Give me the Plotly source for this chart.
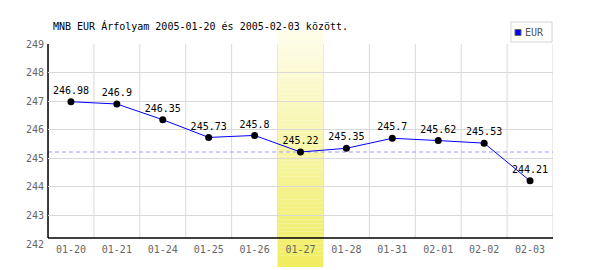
import plotly.graph_objects as go

# ---- data ----
dates = ["01-20", "01-21", "01-24", "01-25", "01-26", "01-27",
         "01-28", "01-31", "02-01", "02-02", "02-03"]
rates = [246.98, 246.9, 246.35, 245.73, 245.8, 245.22,
         245.35, 245.7, 245.62, 245.53, 244.21]
highlight_date = "01-27"
y_ticks = [242, 243, 244, 245, 246, 247, 248, 249]
series_name = "EUR"
title_text = "MNB EUR Árfolyam 2005-01-20 és 2005-02-03 között."

# ---- layout geometry (pixels) ----
W, H = 600, 270
ML, MR, MT, MB = 48, 47, 44, 26
PW, PH = W - ML - MR, H - MT - MB


def px_x(p):  # pixel -> paper x
    return (p - ML) / PW


def px_y(p):  # pixel -> paper y
    return (H - MB - p) / PH


FONT = "DejaVu Sans Mono"
GRID = "#d9d9d9"
axis_bottom = px_y(238)

hi = dates.index(highlight_date)
hi_val = rates[hi]

fig = go.Figure()
fig.add_trace(go.Scatter(
    x=dates, y=rates, mode="lines+markers+text",
    line=dict(color="#0000ff", width=1),
    marker=dict(color="black", size=7),
    text=[str(v) for v in rates], textposition="top center",
    textfont=dict(family=FONT, size=10, color="black"),
    cliponaxis=False, showlegend=False, name=series_name,
))

shapes = []
# vertical grid lines at category boundaries
for i in range(len(dates) + 1):
    shapes.append(dict(type="line", xref="x", yref="paper",
                       x0=i - 0.5, x1=i - 0.5, y0=axis_bottom, y1=1,
                       line=dict(color=GRID, width=1), layer="below"))
# gradient highlight band
N = 60
top_c = (254, 253, 236)
bot_c = (240, 237, 95)
y_top, y_bot = px_y(30), px_y(267)
for k in range(N):
    t = (k + 0.5) / N
    c = tuple(round(top_c[j] + (bot_c[j] - top_c[j]) * t) for j in range(3))
    ya = y_top + (y_bot - y_top) * k / N
    yb = y_top + (y_bot - y_top) * (k + 1) / N
    shapes.append(dict(type="rect", xref="x", yref="paper",
                       x0=hi - 0.5, x1=hi + 0.5, y0=yb, y1=ya,
                       fillcolor="rgb(%d,%d,%d)" % c,
                       line=dict(width=0), layer="between"))
# dashed reference line at highlighted value
shapes.append(dict(type="line", xref="paper", yref="y", x0=0, x1=1,
                   y0=hi_val, y1=hi_val,
                   line=dict(color="#9a9aff", width=1, dash="4px,3px"),
                   layer="between"))
# black axis lines
shapes.append(dict(type="line", xref="paper", yref="paper", x0=0, x1=0,
                   y0=axis_bottom, y1=1, line=dict(color="black", width=1.5),
                   layer="between"))
shapes.append(dict(type="line", xref="paper", yref="paper", x0=0, x1=1,
                   y0=axis_bottom, y1=axis_bottom,
                   line=dict(color="black", width=1.5), layer="between"))
# legend box
shapes.append(dict(type="rect", xref="paper", yref="paper",
                   x0=px_x(511), x1=px_x(552), y0=px_y(42), y1=px_y(22),
                   line=dict(color="#d4d4d4", width=1), fillcolor="white",
                   layer="above"))
shapes.append(dict(type="rect", xref="paper", yref="paper",
                   x0=px_x(515), x1=px_x(521), y0=px_y(35.5), y1=px_y(29.5),
                   line=dict(color="#666666", width=1), fillcolor="#0000ff",
                   layer="above"))

annotations = [
    dict(xref="paper", yref="paper", x=px_x(523), y=px_y(32.5),
         text=series_name, showarrow=False, xanchor="left", yanchor="middle",
         font=dict(family=FONT, size=10, color="#555555")),
]

fig.update_layout(
    width=W, height=H,
    margin=dict(l=ML, r=MR, t=MT, b=MB, pad=0),
    paper_bgcolor="white", plot_bgcolor="white",
    title=dict(text=title_text, x=53 / W, xanchor="left",
               y=1 - 26 / H, yanchor="middle",
               font=dict(family=FONT, size=10, color="black")),
    xaxis=dict(type="category", range=[-0.5, len(dates) - 0.5],
               showgrid=False, showline=False, zeroline=False, ticks="",
               ticklabelstandoff=-2,
               tickfont=dict(family=FONT, size=10, color="#666666"),
               fixedrange=True),
    yaxis=dict(range=[y_ticks[0], y_ticks[-1]], tickvals=y_ticks,
               showgrid=True, gridcolor=GRID, gridwidth=1,
               showline=False, zeroline=False, ticks="",
               ticklabelstandoff=3,
               tickfont=dict(family=FONT, size=10, color="#666666"),
               fixedrange=True),
    shapes=shapes, annotations=annotations, showlegend=False,
)

fig.write_html("out.html")
